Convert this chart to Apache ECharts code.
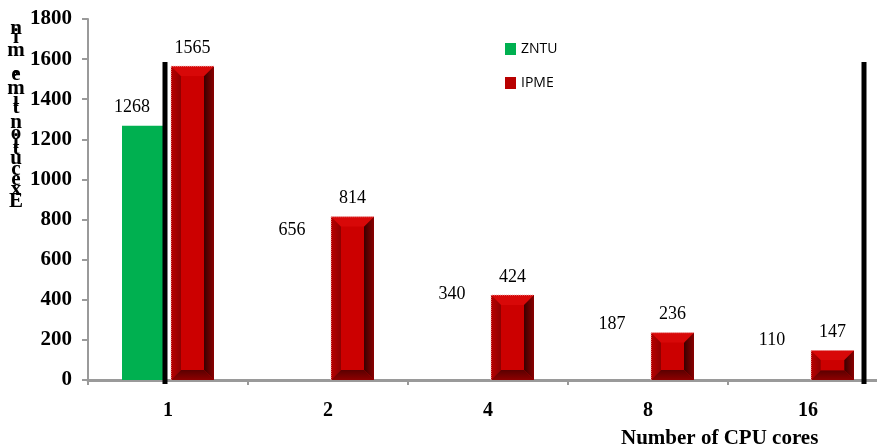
<!DOCTYPE html>
<html>
<head>
<meta charset="utf-8">
<script src="https://cdn.jsdelivr.net/npm/echarts@6/dist/echarts.min.js"></script>
<style>
  html, body { margin: 0; padding: 0; background: #fff; }
  #chart { width: 877px; height: 448px; }
</style>
</head>
<body>
<div id="chart"></div>
<script>
// CPU core counts and run times for the two clusters
const cores = ['1', '2', '4', '8', '16'];
const zntuTimes = [1268, 656, 340, 187, 110];
const ipmeTimes = [1565, 814, 424, 236, 147];
const zntuVisible = [true, false, false, false, false];
const markerCats = [0, 4];
const markerTop = [1585, 1585];
const yTicks = { min: 0, max: 1800, interval: 200 };
const yTitle = 'Execution time, min';
const xTitle = 'Number of CPU cores';

const SERIF = '"Liberation Serif", "Times New Roman", serif';
const GREEN = '#00B050';
const RED = '#CC0000';

const chart = echarts.init(document.getElementById('chart'), null, { renderer: 'canvas' });

// stacked upright letters for the vertical axis title, advancing by glyph width
function verticalTitle() {
  const font = 'bold 21px ' + SERIF;
  const ctx = document.createElement('canvas').getContext('2d');
  ctx.font = font;
  const chars = yTitle.split('');
  const adv = chars.map(ch => ctx.measureText(ch).width);
  const total = adv.reduce((a, b) => a + b, 0);
  const yBottom = 202, yTop = 29;
  const scale = (yBottom - yTop) / (total - adv[0] / 2 - adv[adv.length - 1] / 2);
  const out = [];
  let pos = 0;
  chars.forEach((ch, i) => {
    const centre = pos + adv[i] / 2 - adv[0] / 2;
    pos += adv[i];
    if (ch === ' ') return;
    out.push({
      type: 'text',
      x: 16, y: yBottom - centre * scale,
      style: { text: ch, font, fill: '#000', align: 'center', verticalAlign: 'middle' }
    });
  });
  return out;
}

function renderZntu(params, api) {
  const idx = api.value(0);
  const val = api.value(1);
  const top = api.coord([idx, val]);
  const base = api.coord([idx, 0]);
  const children = [];
  if (zntuVisible[params.dataIndex]) {
    children.push({
      type: 'rect',
      shape: { x: top[0] - 46, y: top[1], width: 43, height: base[1] - top[1] },
      style: { fill: GREEN }
    });
  }
  children.push({
    type: 'text',
    x: top[0] - 36, y: top[1] - 9,
    style: { text: String(val), font: '18px ' + SERIF, fill: '#000', align: 'center', verticalAlign: 'bottom' }
  });
  return { type: 'group', children };
}

function renderIpme(params, api) {
  const idx = api.value(0);
  const val = api.value(1);
  const top = api.coord([idx, val]);
  const base = api.coord([idx, 0]);
  const x0 = top[0] + 3, x1 = top[0] + 46;
  const y0 = top[1], y1 = base[1];
  const b = Math.min(10, (y1 - y0) / 3);
  const poly = (pts, fill) => ({ type: 'polygon', shape: { points: pts }, style: { fill } });
  return {
    type: 'group',
    children: [
      { type: 'rect', shape: { x: x0, y: y0, width: x1 - x0, height: y1 - y0 }, style: { fill: RED } },
      poly([[x0, y0], [x1, y0], [x1 - b, y0 + b], [x0 + b, y0 + b]], '#D80808'),
      poly([[x0, y0], [x0 + b, y0 + b], [x0 + b, y1 - b], [x0, y1]],
        new echarts.graphic.LinearGradient(0, 0, 1, 0, [{ offset: 0, color: '#B80000' }, { offset: 1, color: '#8E0000' }])),
      poly([[x1, y0], [x1, y1], [x1 - b, y1 - b], [x1 - b, y0 + b]],
        new echarts.graphic.LinearGradient(0, 0, 1, 0, [{ offset: 0, color: '#3A0000' }, { offset: 1, color: '#8A0000' }])),
      poly([[x0, y1], [x1, y1], [x1 - b, y1 - b], [x0 + b, y1 - b]],
        new echarts.graphic.LinearGradient(0, 0, 0, 1, [{ offset: 0, color: '#5A0000' }, { offset: 1, color: '#8E0000' }])),
      { type: 'rect', shape: { x: x0 + b, y: y0 + b, width: x1 - x0 - 2 * b, height: Math.max(0, y1 - y0 - 2 * b) }, style: { fill: RED } },
      { type: 'polyline', shape: { points: [[x0, y1], [x0, y0], [x1, y0]] },
        style: { stroke: '#F4B8B8', lineWidth: 1, lineDash: [1, 1], fill: null } },
      {
        type: 'text', x: (x0 + x1) / 2, y: y0 - 9,
        style: { text: String(val), font: '18px ' + SERIF, fill: '#000', align: 'center', verticalAlign: 'bottom' }
      }
    ]
  };
}

// thin black marker rules drawn against the value scale
const markerOffsets = [-3, 56];
function renderMarker(params, api) {
  const top = api.coord([api.value(0), api.value(1)]);
  const base = api.coord([api.value(0), 0]);
  const x = top[0] + markerOffsets[params.dataIndex];
  return {
    type: 'rect',
    shape: { x: x - 2.5, y: top[1], width: 5, height: base[1] - top[1] + 4 },
    style: { fill: '#000' }
  };
}

chart.setOption({
  animation: false,
  backgroundColor: '#fff',
  title: {
    text: xTitle, left: 616, top: 423,
    textStyle: { fontFamily: SERIF, fontWeight: 'bold', fontSize: 21, color: '#000' }
  },
  legend: {
    orient: 'vertical', left: 505, top: 42, padding: 0, itemWidth: 11, itemHeight: 12, itemGap: 20,
    textStyle: { fontFamily: '"Open Sans", "Noto Sans", sans-serif', fontSize: 14, color: '#000' },
    data: [
      { name: 'ZNTU', icon: 'rect', itemStyle: { color: GREEN } },
      { name: 'IPME', icon: 'rect', itemStyle: { color: '#B80000' } }
    ]
  },
  grid: { left: 88, right: -11, top: 19, bottom: 68, containLabel: false, outerBoundsMode: 'none' },
  xAxis: {
    type: 'category', data: cores,
    axisLine: { lineStyle: { color: '#9A9A9A', width: 3 } },
    axisTick: { show: true, length: 5, lineStyle: { color: '#9A9A9A', width: 2 } },
    axisLabel: { margin: 21, fontFamily: SERIF, fontWeight: 'bold', fontSize: 20, color: '#000' }
  },
  yAxis: {
    type: 'value', min: yTicks.min, max: yTicks.max, interval: yTicks.interval,
    axisLine: { show: true, lineStyle: { color: '#9A9A9A', width: 2 } },
    axisTick: { show: true, length: 6, lineStyle: { color: '#9A9A9A', width: 2 } },
    splitLine: { show: false },
    axisLabel: {
      margin: 16, fontFamily: SERIF, fontWeight: 'bold', fontSize: 21, color: '#000',
      formatter: v => String(v)
    }
  },
  graphic: verticalTitle(),
  series: [
    {
      name: 'ZNTU', type: 'custom', renderItem: renderZntu,
      itemStyle: { color: GREEN },
      data: zntuTimes.map((v, i) => [i, v])
    },
    {
      name: 'IPME', type: 'custom', renderItem: renderIpme,
      itemStyle: { color: '#B80000' },
      data: ipmeTimes.map((v, i) => [i, v])
    },
    {
      name: 'markers', type: 'custom', renderItem: renderMarker, silent: true,
      data: markerCats.map((c, i) => [c, markerTop[i]])
    }
  ]
});
</script>
</body>
</html>
